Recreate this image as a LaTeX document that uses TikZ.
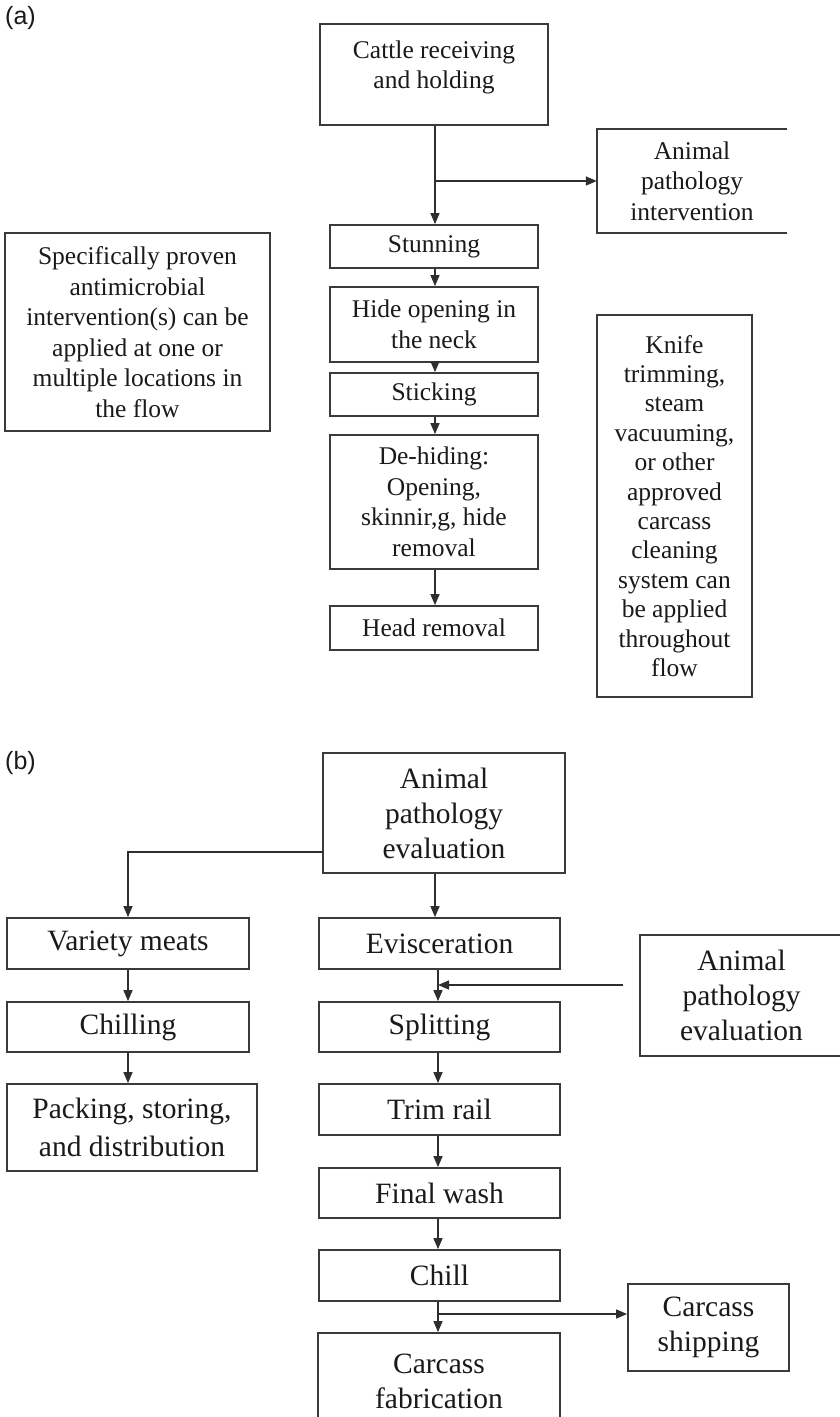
\documentclass[tikz,border=0pt]{standalone}
\usepackage{fontspec}
\setmainfont{Liberation Serif}
\newfontfamily\labfont{Liberation Sans}
\usetikzlibrary{arrows.meta}
\definecolor{boxgray}{HTML}{3A3A3A}
\definecolor{linegray}{HTML}{2E2E2E}
\definecolor{txtblack}{HTML}{1A1A1A}
\begin{document}
\begin{tikzpicture}[x=1pt,y=-1pt,
  box/.style={draw=boxgray, line width=1.8pt, inner sep=0pt, align=center, text=txtblack},
  openbox/.style={inner sep=0pt, align=center, text=txtblack},
  boxline/.style={draw=boxgray, line width=1.8pt},
  fa/.style={font=\fontsize{25.5}{30.5}\selectfont},
  fk/.style={font=\fontsize{25.5}{29.4}\selectfont},
  fb/.style={font=\fontsize{29.5}{35}\selectfont},
  fp/.style={font=\fontsize{29.5}{38}\selectfont},
  arr/.style={draw=linegray, line width=1.4pt, -{Triangle[length=11pt,width=9pt]}},
  lab/.style={font=\labfont\fontsize{25}{30}\selectfont, inner sep=0pt, anchor=west, text=txtblack}]
\useasboundingbox (0,0) rectangle (840,1417);
\fill[white] (0,0) rectangle (840,1417);

% ---------------- (a) ----------------
\node[lab] (la) at (5,18) {(a)};
\node[box,fa,minimum width=228pt,minimum height=101pt,text depth=20pt] (cattle) at (434,74.5) {Cattle receiving\\and holding};
\node[openbox,fa,minimum width=190pt,minimum height=104pt] (pathI) at (692,181) {Animal\\pathology\\intervention};
\draw[boxline] (pathI.north east) -- (pathI.north west) -- (pathI.south west) -- (pathI.south east);
\node[box,fa,minimum width=208pt,minimum height=43pt] (stun) at (434,246.5) {Stunning};
\node[box,fa,minimum width=208pt,minimum height=75pt] (hide) at (434,324.5) {Hide opening in\\the neck};
\node[box,fa,minimum width=208pt,minimum height=43pt] (stick) at (434,394.5) {Sticking};
\node[box,fa,minimum width=208pt,minimum height=134pt] (dehide) at (434,502) {De-hiding:\\Opening,\\skinnir,g, hide\\removal};
\node[box,fa,minimum width=208pt,minimum height=44pt] (head) at (434,628) {Head removal};
\node[box,fa,minimum width=265pt,minimum height=198pt] (spec) at (137.5,332) {Specifically proven\\antimicrobial\\intervention(s) can be\\applied at one or\\multiple locations in\\the flow};
\node[box,fk,minimum width=155pt,minimum height=382pt] (knife) at (674.5,506) {Knife\\trimming,\\steam\\vacuuming,\\or other\\approved\\carcass\\cleaning\\system can\\be applied\\throughout\\flow};

\coordinate (colA) at (435,0);
\draw[arr] (cattle.south -| colA) -- (stun.north -| colA);
\draw[arr] (pathI.west -| colA) -- (pathI.west);
\draw[arr] (stun.south -| colA) -- (hide.north -| colA);
\draw[arr] (hide.south -| colA) -- (stick.north -| colA);
\draw[arr] (stick.south -| colA) -- (dehide.north -| colA);
\draw[arr] (dehide.south -| colA) -- (head.north -| colA);

% ---------------- (b) ----------------
\node[lab] (lb) at (5,763) {(b)};
\node[box,fb,minimum width=242pt,minimum height=120pt] (pathE) at (444,813) {Animal\\pathology\\evaluation};
\node[box,fb,minimum width=242pt,minimum height=51pt] (varm) at (128,943.5) {Variety meats};
\node[box,fb,minimum width=241pt,minimum height=51pt] (evis) at (439.5,943.5) {Evisceration};
\node[box,fb,minimum width=242pt,minimum height=50pt] (chilling) at (128,1027) {Chilling};
\node[box,fb,minimum width=241pt,minimum height=50pt] (split) at (439.5,1027) {Splitting};
\node[box,fp,minimum width=250pt,minimum height=87pt] (pack) at (132,1127.5) {Packing, storing,\\and distribution};
\node[box,fb,minimum width=241pt,minimum height=51pt] (trim) at (439.5,1109.5) {Trim rail};
\node[box,fb,minimum width=241pt,minimum height=50pt] (fwash) at (439.5,1193) {Final wash};
\node[box,fb,minimum width=241pt,minimum height=51pt] (chill) at (439.5,1275.5) {Chill};
\node[box,fb,minimum width=242pt,minimum height=96pt] (fab) at (439,1381) {Carcass\\fabrication};
\node[box,fb,minimum width=203pt,minimum height=121pt] (pathE2) at (741.5,995.5) {Animal\\pathology\\evaluation};
\node[box,fb,minimum width=161pt,minimum height=87pt] (ship) at (708.5,1327.5) {Carcass\\shipping};

\coordinate (colT) at (435,0);
\coordinate (colB) at (438,0);
\coordinate (brB) at (323,852);
\coordinate (pe2s) at (623,985);
\coordinate (brS) at (438,1314);

\draw[arr] (pathE.south -| colT) -- (evis.north -| colT);
\draw[arr] (brB) -| (varm.north);
\draw[arr] (varm.south) -- (chilling.north);
\draw[arr] (chilling.south) -- (chilling.south |- pack.north);
\draw[arr] (evis.south -| colB) -- (split.north -| colB);
\draw[arr] (pe2s) -- (pe2s -| colB);
\draw[arr] (split.south -| colB) -- (trim.north -| colB);
\draw[arr] (trim.south -| colB) -- (fwash.north -| colB);
\draw[arr] (fwash.south -| colB) -- (chill.north -| colB);
\draw[arr] (chill.south -| colB) -- (fab.north -| colB);
\draw[arr] (brS) -- (brS -| ship.west);
\end{tikzpicture}
\end{document}
